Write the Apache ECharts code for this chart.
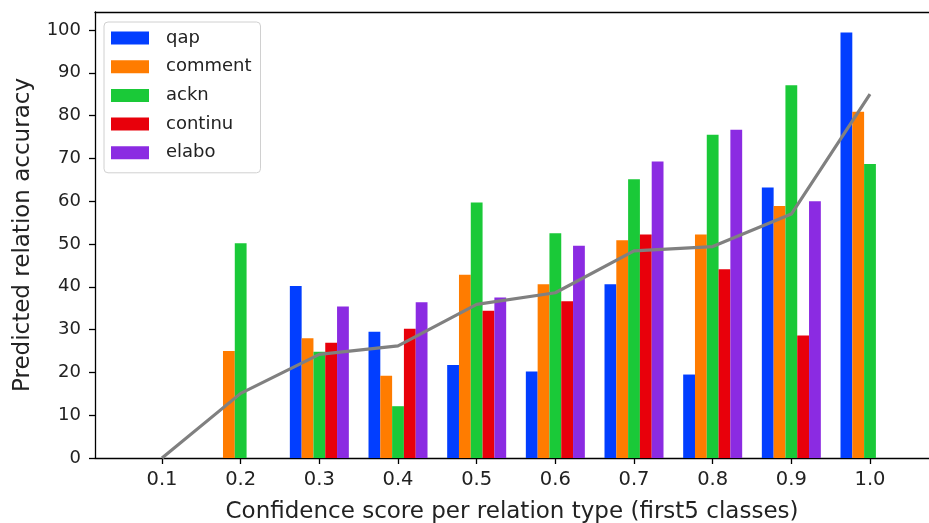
<!DOCTYPE html>
<html>
<head>
<meta charset="utf-8">
<script src="https://cdn.jsdelivr.net/npm/echarts@6/dist/echarts.min.js"></script>
<style>html,body{margin:0;padding:0;background:#fff}#chart{width:929px;height:523px}</style>
</head>
<body>
<div id="chart"></div>
<script>
const categories = [0.1, 0.2, 0.3, 0.4, 0.5, 0.6, 0.7, 0.8, 0.9, 1.0];
const qap      = [0, 0, 40.2, 29.5, 21.7, 20.2, 40.6, 19.5, 63.2, 99.4];
const comment  = [0, 25.0, 28.0, 19.2, 42.8, 40.6, 50.9, 52.2, 58.9, 80.9];
const ackn     = [0, 50.2, 24.8, 12.1, 59.7, 52.5, 65.1, 75.5, 87.1, 68.7];
const continu  = [0, 0, 26.9, 30.2, 34.4, 36.6, 52.2, 44.1, 28.6, 0];
const elabo    = [0, 0, 35.4, 36.4, 37.5, 49.6, 69.3, 76.7, 60.0, 0];
const overall  = [0, 15.1, 24.2, 26.2, 35.9, 38.6, 48.4, 49.4, 57.0, 85.0];
const yTicks   = [0, 10, 20, 30, 40, 50, 60, 70, 80, 90, 100];
const seriesNames = ['qap', 'comment', 'ackn', 'continu', 'elabo'];
const seriesValues = [qap, comment, ackn, continu, elabo];
const colors = ['#023eff', '#ff7c00', '#1ac938', '#e8000b', '#8b2be2'];

const font = 'DejaVu Sans';
const chart = echarts.init(document.getElementById('chart'), null, {renderer: 'canvas'});

const pairs = arr => categories.map((c, i) => [c, arr[i]]);

const series = seriesNames.map((n, k) => ({
  name: n,
  type: 'bar',
  data: pairs(seriesValues[k]),
  barWidth: 11.8,
  barGap: '0%',
  itemStyle: {color: colors[k]},
  emphasis: {disabled: true}
}));
series.push({
  name: 'overall',
  type: 'line',
  data: pairs(overall),
  symbol: 'none',
  lineStyle: {color: '#808080', width: 3.2},
  z: 10,
  emphasis: {disabled: true}
});

chart.setOption({
  animation: false,
  textStyle: {fontFamily: font},
  grid: {left: 95, right: 0, top: 12, bottom: 65, containLabel: false, outerBoundsMode: 'none'},
  legend: {
    data: seriesNames,
    orient: 'vertical',
    left: 104,
    top: 22,
    padding: [7, 9, 11, 7],
    itemWidth: 38,
    itemHeight: 13,
    itemGap: 10.7,
    icon: 'rect',
    backgroundColor: '#fff',
    borderColor: '#d0d0d0',
    borderWidth: 1,
    borderRadius: 4,
    textStyle: {fontFamily: font, fontSize: 18, color: '#222', lineHeight: 18, padding: [0, 0, 0, 12]}
  },
  xAxis: [{
    type: 'value',
    min: 0.0148,
    max: 1.075,
    name: 'Confidence score per relation type (first5 classes)',
    nameLocation: 'middle',
    nameGap: 43,
    nameTextStyle: {fontFamily: font, fontSize: 23, color: '#222'},
    splitLine: {show: false},
    axisLine: {show: true, onZero: false, lineStyle: {color: '#000', width: 1.3}},
    axisTick: {show: true, length: 6, customValues: categories, lineStyle: {color: '#000', width: 1.3}},
    axisLabel: {customValues: categories, formatter: v => v.toFixed(1), fontSize: 19.5, color: '#222', margin: 12, fontFamily: font}
  }, {
    type: 'value',
    position: 'top',
    min: 0.0148,
    max: 1.075,
    splitLine: {show: false},
    axisLine: {show: true, onZero: false, lineStyle: {color: '#000', width: 1.3}},
    axisTick: {show: false},
    axisLabel: {show: false}
  }],
  yAxis: {
    type: 'value',
    min: 0,
    max: 104.2,
    name: 'Predicted relation accuracy',
    nameLocation: 'middle',
    nameGap: 60,
    nameTextStyle: {fontFamily: font, fontSize: 23, color: '#222'},
    splitLine: {show: false},
    axisLine: {show: true, lineStyle: {color: '#000', width: 1.3}},
    axisTick: {show: true, length: 6, customValues: yTicks, lineStyle: {color: '#000', width: 1.3}},
    axisLabel: {customValues: yTicks, fontSize: 18, color: '#222', margin: 14, fontFamily: font}
  },
  series: series
});
</script>
</body>
</html>
